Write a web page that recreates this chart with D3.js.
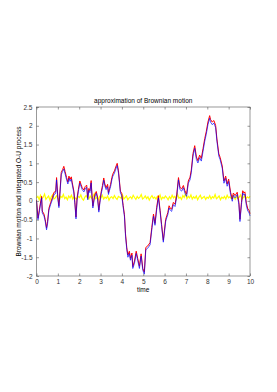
<!DOCTYPE html>
<html>
<head>
<meta charset="utf-8">
<script src="https://cdn.jsdelivr.net/npm/d3@7"></script>
<style>
  body { margin: 0; background: #fff; }
  text { font-family: "Liberation Sans", Arial, sans-serif; }
</style>
</head>
<body>
<div id="chart"></div>
<script>
// Brownian path (blue) as [time, value]
const brownian = [
  [0, 0], [0.07, -0.5], [0.13, -0.3], [0.2, -0.05], [0.24, 0.08], [0.27, -0.32], [0.35, -0.4], [0.41, -0.55],
  [0.47, -0.77], [0.52, -0.6], [0.58, -0.25], [0.66, -0.1], [0.74, 0.03], [0.82, 0.17], [0.9, 0.2],
  [0.94, 0.56], [1.0, 0.05], [1.05, -0.18], [1.1, 0.2], [1.16, 0.7], [1.22, 0.78], [1.28, 0.85],
  [1.34, 0.72], [1.41, 0.56], [1.47, 0.45], [1.52, 0.6], [1.57, 0.52], [1.63, 0.58], [1.67, 0.45],
  [1.75, 0.21], [1.8, -0.1], [1.85, -0.48], [1.9, 0.03], [1.96, 0.25], [2.03, 0.47], [2.09, 0.38],
  [2.14, 0.3], [2.22, 0.24], [2.28, 0.32], [2.35, 0.36], [2.4, 0.03], [2.45, 0.28], [2.5, 0.22],
  [2.56, 0.48], [2.6, 0.1], [2.64, -0.19], [2.72, 0.1], [2.8, 0.2], [2.86, 0.05], [2.92, -0.3],
  [2.97, -0.05], [3.03, 0.19], [3.09, 0.35], [3.15, 0.55], [3.2, 0.4], [3.26, 0.3], [3.33, 0.38],
  [3.37, 0.17], [3.42, 0.28], [3.47, 0.38], [3.53, 0.56], [3.57, 0.65], [3.65, 0.74], [3.73, 0.87],
  [3.78, 0.94], [3.84, 0.74], [3.89, 0.45], [3.93, 0.21], [3.99, 0.15], [4.06, -0.17], [4.12, -0.42],
  [4.17, -0.94], [4.23, -1.3], [4.28, -1.5], [4.35, -1.4], [4.4, -1.58], [4.47, -1.45], [4.51, -1.8],
  [4.59, -1.66], [4.67, -1.4], [4.74, -1.58], [4.82, -1.8], [4.9, -1.47], [4.98, -1.85], [5.05, -1.95],
  [5.12, -1.3], [5.21, -1.26], [5.32, -1.17], [5.4, -0.77], [5.48, -0.41], [5.55, -0.65], [5.63, -0.23],
  [5.71, 0.08], [5.79, -0.3], [5.86, -0.68], [5.94, -1.1], [5.99, -0.86], [6.05, -0.55], [6.1, -0.45],
  [6.15, -0.37], [6.21, -0.19], [6.27, -0.25], [6.33, -0.28], [6.41, -0.1], [6.49, -0.15], [6.57, 0.12],
  [6.65, 0.56], [6.72, 0.3], [6.8, 0.26], [6.88, 0.35], [6.95, 0.21], [7.03, 0.12], [7.11, 0.47],
  [7.19, 0.56], [7.25, 0.75], [7.33, 1.19], [7.41, 1.4], [7.49, 1.1], [7.56, 1.01], [7.64, 1.15],
  [7.72, 1.06], [7.8, 1.32], [7.88, 1.59], [7.95, 1.77], [8.03, 2.03], [8.11, 2.2], [8.15, 2.1],
  [8.23, 2.03], [8.31, 2.07], [8.39, 1.95], [8.45, 1.59], [8.54, 1.19], [8.6, 1.1], [8.7, 0.87],
  [8.78, 0.47], [8.86, 0.6], [8.93, 0.39], [9.0, 0.52], [9.09, 0.17], [9.17, -0.01], [9.22, 0.15],
  [9.3, 0.08], [9.4, 0.17], [9.48, -0.1], [9.53, -0.55], [9.6, -0.1], [9.66, 0.21], [9.72, 0.15],
  [9.76, 0.18], [9.83, -0.12], [9.9, -0.28], [9.95, -0.3], [10.0, -0.4]
];

// integrated O-U process (red), sits just above the blue path
const integratedOU = [
  [0, 0.02], [0.07, -0.46], [0.13, -0.25], [0.2, 0.0], [0.24, 0.12], [0.27, -0.27], [0.35, -0.35], [0.41, -0.5],
  [0.47, -0.72], [0.52, -0.54], [0.58, -0.2], [0.66, -0.05], [0.74, 0.08], [0.82, 0.23], [0.9, 0.25],
  [0.94, 0.62], [1.0, 0.1], [1.05, -0.13], [1.1, 0.26], [1.16, 0.76], [1.22, 0.83], [1.28, 0.92],
  [1.34, 0.78], [1.41, 0.62], [1.47, 0.5], [1.52, 0.66], [1.57, 0.57], [1.63, 0.64], [1.67, 0.5],
  [1.75, 0.26], [1.8, -0.05], [1.85, -0.43], [1.9, 0.08], [1.96, 0.3], [2.03, 0.53], [2.09, 0.43],
  [2.14, 0.35], [2.22, 0.29], [2.28, 0.38], [2.35, 0.42], [2.4, 0.08], [2.45, 0.33], [2.5, 0.27],
  [2.56, 0.54], [2.6, 0.15], [2.64, -0.14], [2.72, 0.15], [2.8, 0.25], [2.86, 0.1], [2.92, -0.25],
  [2.97, 0.0], [3.03, 0.24], [3.09, 0.41], [3.15, 0.61], [3.2, 0.45], [3.26, 0.35], [3.33, 0.44],
  [3.37, 0.22], [3.42, 0.33], [3.47, 0.44], [3.53, 0.62], [3.57, 0.71], [3.65, 0.8], [3.73, 0.93],
  [3.78, 1.0], [3.84, 0.8], [3.89, 0.5], [3.93, 0.26], [3.99, 0.2], [4.06, -0.12], [4.12, -0.37],
  [4.17, -0.88], [4.23, -1.25], [4.28, -1.44], [4.35, -1.34], [4.4, -1.53], [4.47, -1.39], [4.51, -1.75],
  [4.59, -1.6], [4.67, -1.34], [4.74, -1.53], [4.82, -1.74], [4.9, -1.41], [4.98, -1.8], [5.05, -1.9],
  [5.12, -1.24], [5.21, -1.2], [5.32, -1.11], [5.4, -0.71], [5.48, -0.35], [5.55, -0.6], [5.63, -0.17],
  [5.71, 0.14], [5.79, -0.25], [5.86, -0.63], [5.94, -1.05], [5.99, -0.8], [6.05, -0.49], [6.1, -0.4],
  [6.15, -0.31], [6.21, -0.13], [6.27, -0.2], [6.33, -0.22], [6.41, -0.04], [6.49, -0.09], [6.57, 0.18],
  [6.65, 0.62], [6.72, 0.36], [6.8, 0.32], [6.88, 0.41], [6.95, 0.27], [7.03, 0.18], [7.11, 0.53],
  [7.19, 0.63], [7.25, 0.82], [7.33, 1.26], [7.41, 1.47], [7.49, 1.17], [7.56, 1.07], [7.64, 1.22],
  [7.72, 1.13], [7.8, 1.39], [7.88, 1.66], [7.95, 1.84], [8.03, 2.1], [8.11, 2.27], [8.15, 2.17],
  [8.23, 2.1], [8.31, 2.14], [8.39, 2.01], [8.45, 1.65], [8.54, 1.25], [8.6, 1.16], [8.7, 0.93],
  [8.78, 0.53], [8.86, 0.66], [8.93, 0.45], [9.0, 0.58], [9.09, 0.23], [9.17, 0.05], [9.22, 0.21],
  [9.3, 0.14], [9.4, 0.23], [9.48, -0.04], [9.53, -0.49], [9.6, -0.04], [9.66, 0.27], [9.72, 0.21],
  [9.76, 0.24], [9.83, -0.06], [9.9, -0.22], [9.95, -0.24], [10.0, -0.34]
];

// O-U process itself (yellow), evenly spaced over 0..10
const ouValues = [
  0.08, 0.12, 0.03, 0.15, 0.06, 0.1, 0.18, 0.04, 0.09, 0.13, 0.02, 0.11, 0.16, 0.05, 0.08, 0.14,
  0.07, 0.01, 0.12, 0.09, 0.17, 0.06, 0.1, 0.03, 0.13, 0.08, 0.15, 0.05, 0.11, 0.07, 0.04, 0.12,
  0.09, 0.16, 0.06, 0.02, 0.1, 0.14, 0.08, 0.05, 0.13, 0.07, 0.11, 0.19, 0.06, 0.09, 0.03, 0.12,
  0.08, 0.15, 0.05, 0.1, 0.07, 0.13, 0.02, 0.09, 0.11, 0.06, 0.14, 0.08, 0.04, 0.12, 0.1, 0.07,
  0.16, 0.05, 0.09, 0.13, 0.03, 0.08, 0.11, 0.06, 0.15, 0.09, 0.04, 0.12, 0.07, 0.1, 0.17, 0.05,
  0.08, 0.13, 0.06, 0.11, 0.02, 0.09, 0.14, 0.07, 0.1, 0.05, 0.12, 0.08, 0.16, 0.04, 0.1, 0.07,
  0.13, 0.09, 0.03, 0.11, 0.06, 0.15, 0.08, 0.12, 0.05, 0.18, 0.07, 0.1, 0.04, 0.14, 0.09, 0.2,
  0.06, 0.12, 0.08, 0.16, 0.05, 0.11, 0.07, 0.13, 0.03, 0.1, 0.15, 0.06, 0.09, 0.12, 0.04, 0.1,
  0.07, 0.14, 0.05, 0.11, 0.08, 0.17, 0.06, 0.09, 0.13, 0.03, 0.1, 0.07, 0.12, 0.05, 0.15, 0.08,
  0.11, 0.06, 0.14, 0.09, 0.04, 0.12, 0.07, 0.1, 0.16, 0.05, 0.09, 0.13, 0.06, 0.11, 0.08, 0.12
];

const xTicks = [0, 1, 2, 3, 4, 5, 6, 7, 8, 9, 10];
const yTicks = [-2, -1.5, -1, -0.5, 0, 0.5, 1, 1.5, 2, 2.5];

const W = 277, H = 392;
const margin = { top: 107, right: 27, bottom: 116, left: 36.5 };
const width = W - margin.left - margin.right;
const height = H - margin.top - margin.bottom;

const svg = d3.select("#chart").append("svg")
  .attr("width", W)
  .attr("height", H);

const g = svg.append("g")
  .attr("transform", "translate(" + margin.left + "," + margin.top + ")");

const x = d3.scaleLinear().domain([0, 10]).range([0, width]);
const y = d3.scaleLinear().domain([-2, 2.5]).range([height, 0]);
const idx = d3.scaleLinear().domain([0, ouValues.length - 1]).range([0, 10]);

const line = d3.line()
  .x(d => x(d[0]))
  .y(d => y(d[1]));

g.append("path")
  .datum(ouValues.map((v, i) => [idx(i), v]))
  .attr("d", line)
  .style("fill", "none")
  .style("stroke", "#ffff00")
  .style("stroke-width", 1.2);

g.append("path")
  .datum(integratedOU)
  .attr("d", line)
  .style("fill", "none")
  .style("stroke", "#ff0000")
  .style("stroke-width", 1);

g.append("path")
  .datum(brownian)
  .attr("d", line)
  .style("fill", "none")
  .style("stroke", "#0000ff")
  .style("stroke-width", 0.9)
  .style("opacity", 0.75);

// box with inward ticks on all sides, matlab style
const axisColor = "#555";
function styleAxis(sel) {
  sel.select(".domain").remove();
  sel.selectAll("line").attr("stroke", axisColor).attr("stroke-width", 0.6);
  sel.selectAll("text").style("font-size", "6.5px").style("fill", "#333");
}

g.append("g")
  .attr("transform", "translate(0," + height + ")")
  .call(d3.axisBottom(x).tickValues(xTicks).tickSize(-2.5).tickPadding(3).tickFormat(d3.format("d")))
  .call(styleAxis);

g.append("g")
  .call(d3.axisTop(x).tickValues(xTicks).tickSize(-2.5).tickFormat(""))
  .call(styleAxis);

g.append("g")
  .call(d3.axisLeft(y).tickValues(yTicks).tickSize(-2.5).tickPadding(4).tickFormat(d => String(d)))
  .call(styleAxis);

g.append("g")
  .attr("transform", "translate(" + width + ",0)")
  .call(d3.axisRight(y).tickValues(yTicks).tickSize(-2.5).tickFormat(""))
  .call(styleAxis);

g.append("rect")
  .attr("width", width)
  .attr("height", height)
  .style("fill", "none")
  .style("stroke", axisColor)
  .style("stroke-width", 0.6);

g.append("text")
  .attr("x", width / 2)
  .attr("y", -4)
  .attr("text-anchor", "middle")
  .style("font-size", "6.5px")
  .style("fill", "#000")
  .text("approximation of Brownian motion");

g.append("text")
  .attr("x", width / 2)
  .attr("y", height + 16)
  .attr("text-anchor", "middle")
  .style("font-size", "6.5px")
  .style("fill", "#000")
  .text("time");

g.append("text")
  .attr("transform", "translate(-16," + (height / 2) + ") rotate(-90)")
  .attr("text-anchor", "middle")
  .style("font-size", "6.5px")
  .style("fill", "#000")
  .text("Brownian motion and integrated O-U process");
</script>
</body>
</html>
